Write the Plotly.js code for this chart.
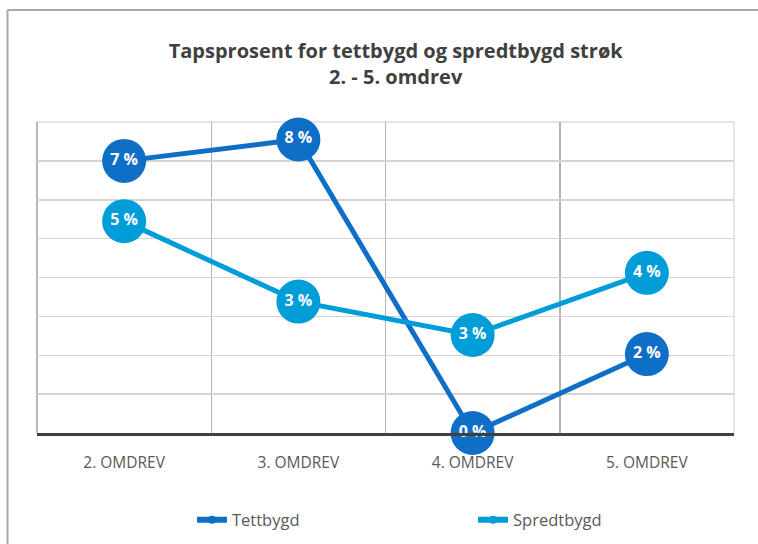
<!DOCTYPE html>
<html>
<head>
<meta charset="utf-8">
<script src="https://cdn.plot.ly/plotly-3.0.1.min.js"></script>
<style>
  html, body { margin: 0; padding: 0; background: #fff; }
  #chart { width: 758px; height: 544px; }
</style>
</head>
<body>
<div id="chart"></div>
<script>
(() => {
  const categories = ["2. OMDREV", "3. OMDREV", "4. OMDREV", "5. OMDREV"];
  const tettbygd = [7.0, 7.55, 0.0, 2.03];
  const spredtbygd = [5.45, 3.38, 2.52, 4.12];
  const seriesNames = ["Tettbygd", "Spredtbygd"];
  const colors = ["#0F6FC6", "#009DD9"];

  const font = "Open Sans, Liberation Sans, sans-serif";
  const pct = (v) => Math.round(v) + " %";

  const mainTrace = (y, i) => ({
    x: categories,
    y: y,
    type: "scatter",
    mode: "lines+markers+text",
    name: seriesNames[i],
    showlegend: false,
    cliponaxis: false,
    line: { color: colors[i], width: 5 },
    marker: { color: colors[i], size: 44 },
    text: y.map(pct),
    textposition: "middle center",
    textfont: { family: font, size: 16, color: "#ffffff", weight: "bold" },
    hoverinfo: "x+text",
  });

  // legend-only entries with a small marker, like the original
  const legendTrace = (i) => ({
    x: [null],
    y: [null],
    type: "scatter",
    mode: "lines+markers",
    name: seriesNames[i],
    line: { color: colors[i], width: 6 },
    marker: { color: colors[i], size: 8 },
  });

  const data = [
    mainTrace(tettbygd, 0),
    mainTrace(spredtbygd, 1),
    legendTrace(0),
    legendTrace(1),
  ];

  // plot area in pixels
  const L = 37, R = 734, T = 122, B = 433;
  const px = (x) => (x - L) / (R - L);
  const py = (y) => (B - y) / (B - T);
  const edge = (x0, y0, x1, y1, color, width) => ({
    type: "line", xref: "paper", yref: "paper", layer: "below",
    x0: px(x0), x1: px(x1), y0: py(y0), y1: py(y1),
    line: { color: color, width: width },
  });

  const layout = {
    width: 758,
    height: 544,
    margin: { l: L, r: 758 - R, t: T, b: 544 - B },
    paper_bgcolor: "#ffffff",
    plot_bgcolor: "#ffffff",
    font: { family: font, color: "#595959" },
    title: {
      text: "<b>Tapsprosent for tettbygd og spredtbygd strøk<br>2. - 5. omdrev</b>",
      font: { family: font, size: 20, color: "#404040" },
      xref: "container",
      x: 0.522,
      xanchor: "center",
      yref: "container",
      y: 1 - 58 / 544,
      yanchor: "middle",
    },
    xaxis: {
      type: "category",
      range: [-0.5, 3.5],
      tickson: "boundaries",
      showgrid: true,
      gridcolor: "#b4b4b4",
      gridwidth: 1.5,
      ticks: "",
      showline: true,
      linecolor: "#404040",
      linewidth: 2.5,
      ticklabelstandoff: 14,
      tickfont: { family: font, size: 15.5, color: "#595959" },
      fixedrange: true,
    },
    yaxis: {
      range: [0, 8],
      dtick: 1,
      showticklabels: false,
      showgrid: true,
      gridcolor: "#d4d4d4",
      gridwidth: 1.5,
      zeroline: false,
      fixedrange: true,
    },
    legend: {
      orientation: "h",
      xref: "container",
      yref: "container",
      x: 192 / 758,
      xanchor: "left",
      y: (544 - 520) / 544,
      yanchor: "middle",
      entrywidth: 236,
      entrywidthmode: "pixels",
      font: { family: font, size: 16.5, color: "#595959" },
    },
    shapes: [
      // outer frame of the chart
      edge(7.5, 10, 7.5, 544, "#a8a8a8", 2),
      edge(7.5, 10, 758, 10, "#a8a8a8", 2),
      // plot area border
      edge(L, T, R, T, "#dcdcdc", 1.5),
      edge(L, T, L, B, "#a0a0a0", 1.5),
      edge(R, T, R, B, "#dcdcdc", 1.5),
    ],
  };

  Plotly.newPlot("chart", data, layout, { displayModeBar: false, staticPlot: true });
})();
</script>
</body>
</html>
